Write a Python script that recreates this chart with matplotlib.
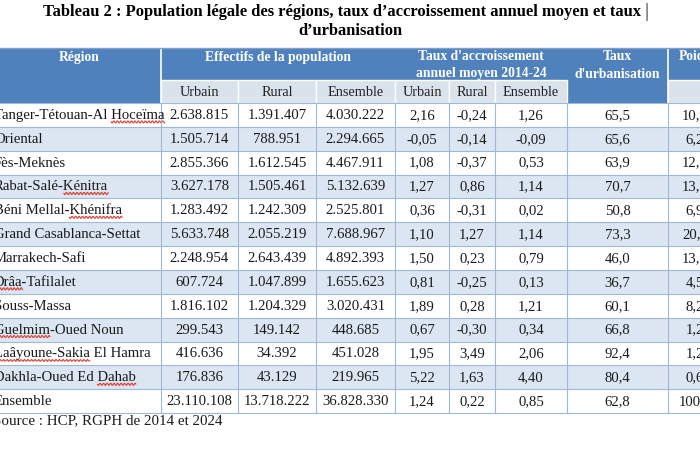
import matplotlib
matplotlib.use("Agg")
import matplotlib.pyplot as plt
from matplotlib.patches import Rectangle
from matplotlib.font_manager import FontProperties
import numpy as np

TITLE = ("Tableau 2 : Population légale des régions, taux d\u2019accroissement "
         "annuel moyen et taux")
TITLE2 = "d\u2019urbanisation"
SOURCE = "Source : HCP, RGPH de 2014 et 2024"

REGIONS = [
    "Tanger-Tétouan-Al Hoceïma", "Oriental", "Fès-Meknès", "Rabat-Salé-Kénitra",
    "Béni Mellal-Khénifra", "Grand Casablanca-Settat", "Marrakech-Safi",
    "Drâa-Tafilalet", "Souss-Massa", "Guelmim-Oued Noun",
    "Laâyoune-Sakia El Hamra", "Dakhla-Oued Ed Dahab", "Ensemble",
]
# words flagged by the spell checker in the source document
FLAGGED = {
    "Tanger-Tétouan-Al Hoceïma": "Hoceïma",
    "Rabat-Salé-Kénitra": "Kénitra",
    "Béni Mellal-Khénifra": "Khénifra",
    "Drâa-Tafilalet": "Drâa",
    "Guelmim-Oued Noun": "Guelmim",
    "Laâyoune-Sakia El Hamra": "Laâyoune-Sakia",
    "Dakhla-Oued Ed Dahab": "Dahab",
}
URBAIN = [2638815, 1505714, 2855366, 3627178, 1283492, 5633748, 2248954,
          607724, 1816102, 299543, 416636, 176836, 23110108]
RURAL = [1391407, 788951, 1612545, 1505461, 1242309, 2055219, 2643439,
         1047899, 1204329, 149142, 34392, 43129, 13718222]
ENSEMBLE = [4030222, 2294665, 4467911, 5132639, 2525801, 7688967, 4892393,
            1655623, 3020431, 448685, 451028, 219965, 36828330]
TX_URB = [2.16, -0.05, 1.08, 1.27, 0.36, 1.10, 1.50, 0.81, 1.89, 0.67, 1.95, 5.22, 1.24]
TX_RUR = [-0.24, -0.14, -0.37, 0.86, -0.31, 1.27, 0.23, -0.25, 0.28, -0.30, 3.49, 1.63, 0.22]
TX_ENS = [1.26, -0.09, 0.53, 1.14, 0.02, 1.14, 0.79, 0.13, 1.21, 0.34, 2.06, 4.40, 0.85]
URBANISATION = [65.5, 65.6, 63.9, 70.7, 50.8, 73.3, 46.0, 36.7, 60.1, 66.8, 92.4, 80.4, 62.8]
POIDS = [10.9, 6.2, 12.1, 13.9, 6.9, 20.9, 13.3, 4.5, 8.2, 1.2, 1.2, 0.6, 100.0]

SUBHEAD = ["Urbain", "Rural", "Ensemble", "Urbain", "Rural", "Ensemble"]

# layout, in pixels
XE = [-3, 161, 238, 316, 395, 449, 495, 567, 668, 722]
Y_TOP, Y_SUB, Y_BODY, ROW_H = 48, 80, 103, 23.85

HEAD = "#4F81BD"
SUB = "#DAE2EC"
ALT = "#DCE6F2"
GRID = "#9FB8DA"
SERIF = "Liberation Serif"


def fmt_int(v):
    return f"{v:,}".replace(",", ".")


def fmt_dec(v, n):
    return f"{v:.{n}f}".replace(".", ",")


def main():
    fig = plt.figure(figsize=(7, 4.5), dpi=100)
    ax = fig.add_axes([0, 0, 1, 1])
    ax.set_xlim(0, 700)
    ax.set_ylim(450, 0)
    ax.axis("off")

    # title
    t = ax.text(342, 12, TITLE, ha="center", va="center", fontsize=11.9,
                fontweight="bold", family=SERIF)
    ax.annotate("|", xy=(1, 0.5), xycoords=t, xytext=(2, 0),
                textcoords="offset points", ha="left", va="center",
                fontsize=13, family="DejaVu Sans", fontweight="light")
    ax.text(350, 31, TITLE2, ha="center", va="center", fontsize=11.9,
            fontweight="bold", family=SERIF)

    n = len(REGIONS)
    y_end = Y_BODY + n * ROW_H

    # header backgrounds
    ax.add_patch(Rectangle((XE[0], Y_TOP), XE[-1] - XE[0], Y_BODY - Y_TOP,
                           facecolor=HEAD, edgecolor="none"))
    for i in list(range(1, 7)) + [8]:
        ax.add_patch(Rectangle((XE[i], Y_SUB), XE[i + 1] - XE[i], Y_BODY - Y_SUB,
                               facecolor=SUB, edgecolor="white", lw=1))
    for x in (XE[1], XE[8]):
        ax.plot([x, x], [Y_TOP, Y_BODY], color="white", lw=1.2)
    ax.plot([XE[0], XE[-1]], [Y_TOP, Y_TOP], color="#7FA0CC", lw=1)

    hk = dict(color="white", fontweight="bold", family=SERIF, fontsize=9.8,
              ha="center", va="top", linespacing=1.4)
    ax.text((XE[0] + XE[1]) / 2, 50.5, "Région", **hk)
    ax.text((XE[1] + XE[4]) / 2, 50.5, "Effectifs de la population", **hk)
    ax.text((XE[4] + XE[7]) / 2, 50.5, "Taux d'accroissement\nannuel moyen 2014-24", **hk)
    ax.text((XE[7] + XE[8]) / 2, 50.5, "Taux\nd'urbanisation", **hk)
    ax.text((XE[8] + XE[9]) / 2, 50.5, "Poids", **hk)
    for i, lab in enumerate(SUBHEAD):
        ax.text((XE[i + 1] + XE[i + 2]) / 2, (Y_SUB + Y_BODY) / 2 + 1, lab,
                ha="center", va="center", fontsize=10.3, family=SERIF,
                color="#222222")

    # body
    cols = [
        [fmt_int(v) for v in URBAIN],
        [fmt_int(v) for v in RURAL],
        [fmt_int(v) for v in ENSEMBLE],
        [fmt_dec(v, 2) for v in TX_URB],
        [fmt_dec(v, 2) for v in TX_RUR],
        [fmt_dec(v, 2) for v in TX_ENS],
        [fmt_dec(v, 1) for v in URBANISATION],
        [fmt_dec(v, 1) for v in POIDS],
    ]
    prop = FontProperties(family=SERIF, size=10.6)
    renderer = fig.canvas.get_renderer()
    x_name = XE[0] - 3
    for r in range(n):
        y0 = Y_BODY + r * ROW_H
        fc = ALT if r % 2 == 1 else "white"
        ax.add_patch(Rectangle((XE[0], y0), XE[-1] - XE[0], ROW_H,
                               facecolor=fc, edgecolor="none"))
        yb = y0 + ROW_H / 2 + 4
        name = REGIONS[r]
        ax.text(x_name, yb, name, ha="left", va="baseline",
                fontproperties=prop, color="#1a1a1a")
        if name in FLAGGED:
            word = FLAGGED[name]
            k = name.index(word)
            wpre = renderer.get_text_width_height_descent(name[:k], prop, ismath=False)[0]
            ww = renderer.get_text_width_height_descent(word, prop, ismath=False)[0]
            xs = np.linspace(x_name + wpre, x_name + wpre + ww, 80)
            ys = yb + 3 + 1.1 * np.sin((xs - xs[0]) * 2 * np.pi / 3.5)
            ax.plot(xs, ys, color="#E03A2E", lw=0.8)
        for c, vals in enumerate(cols):
            ax.text((XE[c + 1] + XE[c + 2]) / 2, yb, vals[r], ha="center",
                    va="baseline", fontproperties=prop, color="#1a1a1a")

    # grid lines
    for r in range(n + 1):
        y = Y_BODY + r * ROW_H
        ax.plot([XE[0], XE[-1]], [y, y], color=GRID, lw=0.8)
    for x in XE[1:-1]:
        ax.plot([x, x], [Y_BODY, y_end], color=GRID, lw=0.8)

    ax.text(-7, 421, SOURCE, ha="left", va="center", fontsize=10.8,
            family=SERIF, color="#1a1a1a")

    fig.savefig("out.png", dpi=100)
    plt.close(fig)


if __name__ == "__main__":
    main()
